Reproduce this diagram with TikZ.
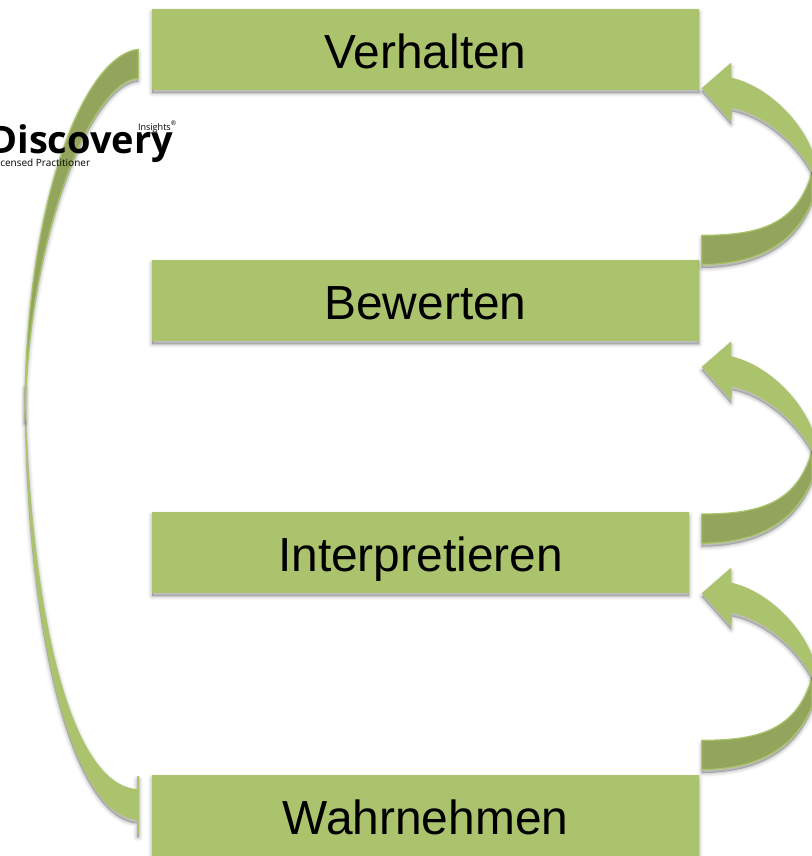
\documentclass[tikz,border=0pt]{standalone}
\usepackage{fontspec}
\setmainfont{Liberation Sans}
\newfontfamily\logofont{Open Sans}
\definecolor{boxgreen}{HTML}{ABC36D}
\definecolor{backgreen}{HTML}{93A55C}
\definecolor{rimgreen}{HTML}{A9C568}
\tikzset{
  softshadow/.style={
    preaction={draw=black,fill=black,opacity=.025,line width=6pt,line join=round,transform canvas={yshift=-2.6pt}},
    preaction={draw=black,fill=black,opacity=.035,line width=4.5pt,line join=round,transform canvas={yshift=-2.6pt}},
    preaction={draw=black,fill=black,opacity=.045,line width=3pt,line join=round,transform canvas={yshift=-2.6pt}},
    preaction={draw=black,fill=black,opacity=.055,line width=1.5pt,line join=round,transform canvas={yshift=-2.6pt}},
    preaction={draw=black,fill=black,opacity=.06,line width=.3pt,line join=round,transform canvas={yshift=-2.4pt}}},
  stagebox/.style={softshadow,fill=boxgreen,rectangle,inner sep=0pt,outer sep=0pt,
    minimum height=60.75pt,text height=32pt,text depth=2.8pt,text=black,font=\fontsize{35.9pt}{40pt}\selectfont},
  wideface/.style={softshadow,fill=boxgreen},
  backface/.style={softshadow,fill=backgreen,draw=rimgreen,line width=.9pt,line join=round},
  curvedarrow/.pic={
    \path[backface] (0,147) .. controls (55,147) and (95,138) .. (110.3,84)
      -- (110.3,113) .. controls (92,158) and (52,176) .. (0,176.3) -- cycle;
    \path[wideface] (0,0) -- (29.3,-25.5) -- (29.3,-10.7)
      .. controls (64,-3) and (98,30) .. (110.3,62) -- (110.3,84)
      .. controls (94,52) and (60,25) .. (30,19.7) -- (29.3,33) -- cycle;
  }
}
\begin{document}
\begin{tikzpicture}[x=.75pt,y=-.75pt]
\path[use as bounding box,clip] (0,0) rectangle (812,856);
\fill[white] (0,0) rectangle (812,856);

% long arrow on the left
\path[wideface] (137,776) -- (139,776) -- (139,834) -- (137,834) -- (137,820)
  .. controls (70,815) and (24,620) .. (25,385)
  .. controls (30,610) and (70,785) .. (137,789) -- cycle;
\path[backface] (138.3,49.3) .. controls (85,55) and (24,200) .. (25,420)
  .. controls (27,240) and (90,82) .. (138.3,78.3) -- cycle;

% stages
\node[stagebox,minimum width=410.25pt] (verhalten) at (425.5,49.5) {Verhalten};
\node[stagebox,minimum width=410.25pt] (bewerten) at (425.5,300.5) {Bewerten};
\node[stagebox,minimum width=402.75pt] (interpretieren) at (420.5,552) {Interpretieren};
\node[stagebox,minimum width=410.25pt] (wahrnehmen) at (425.5,815) {Wahrnehmen};
\fill[boxgreen] (wahrnehmen.south west) rectangle (wahrnehmen.east |- 0,857);

% arrows on the right
\coordinate (tipA) at (701.7,88.3);
\coordinate (tipB) at (701.7,367);
\coordinate (tipC) at (701.7,593.3);
\pic at (tipA) {curvedarrow};
\pic at (tipB) {curvedarrow};
\pic at (tipC) {curvedarrow};

% logo
\node[anchor=base east,inner sep=0pt,font=\logofont\bfseries\fontsize{28.5pt}{30pt}\selectfont] (logo) at (173.5,153) {Discovery};
\node[anchor=base east,inner sep=0pt,font=\logofont\fontsize{6.8pt}{8pt}\selectfont] (insights) at (177,130) {Insights\textsuperscript{®}};
\node[anchor=base west,inner sep=0pt,font=\logofont\fontsize{7.5pt}{8pt}\selectfont] (licensed) at (0,166.5) {censed Practitioner};
\end{tikzpicture}
\end{document}
